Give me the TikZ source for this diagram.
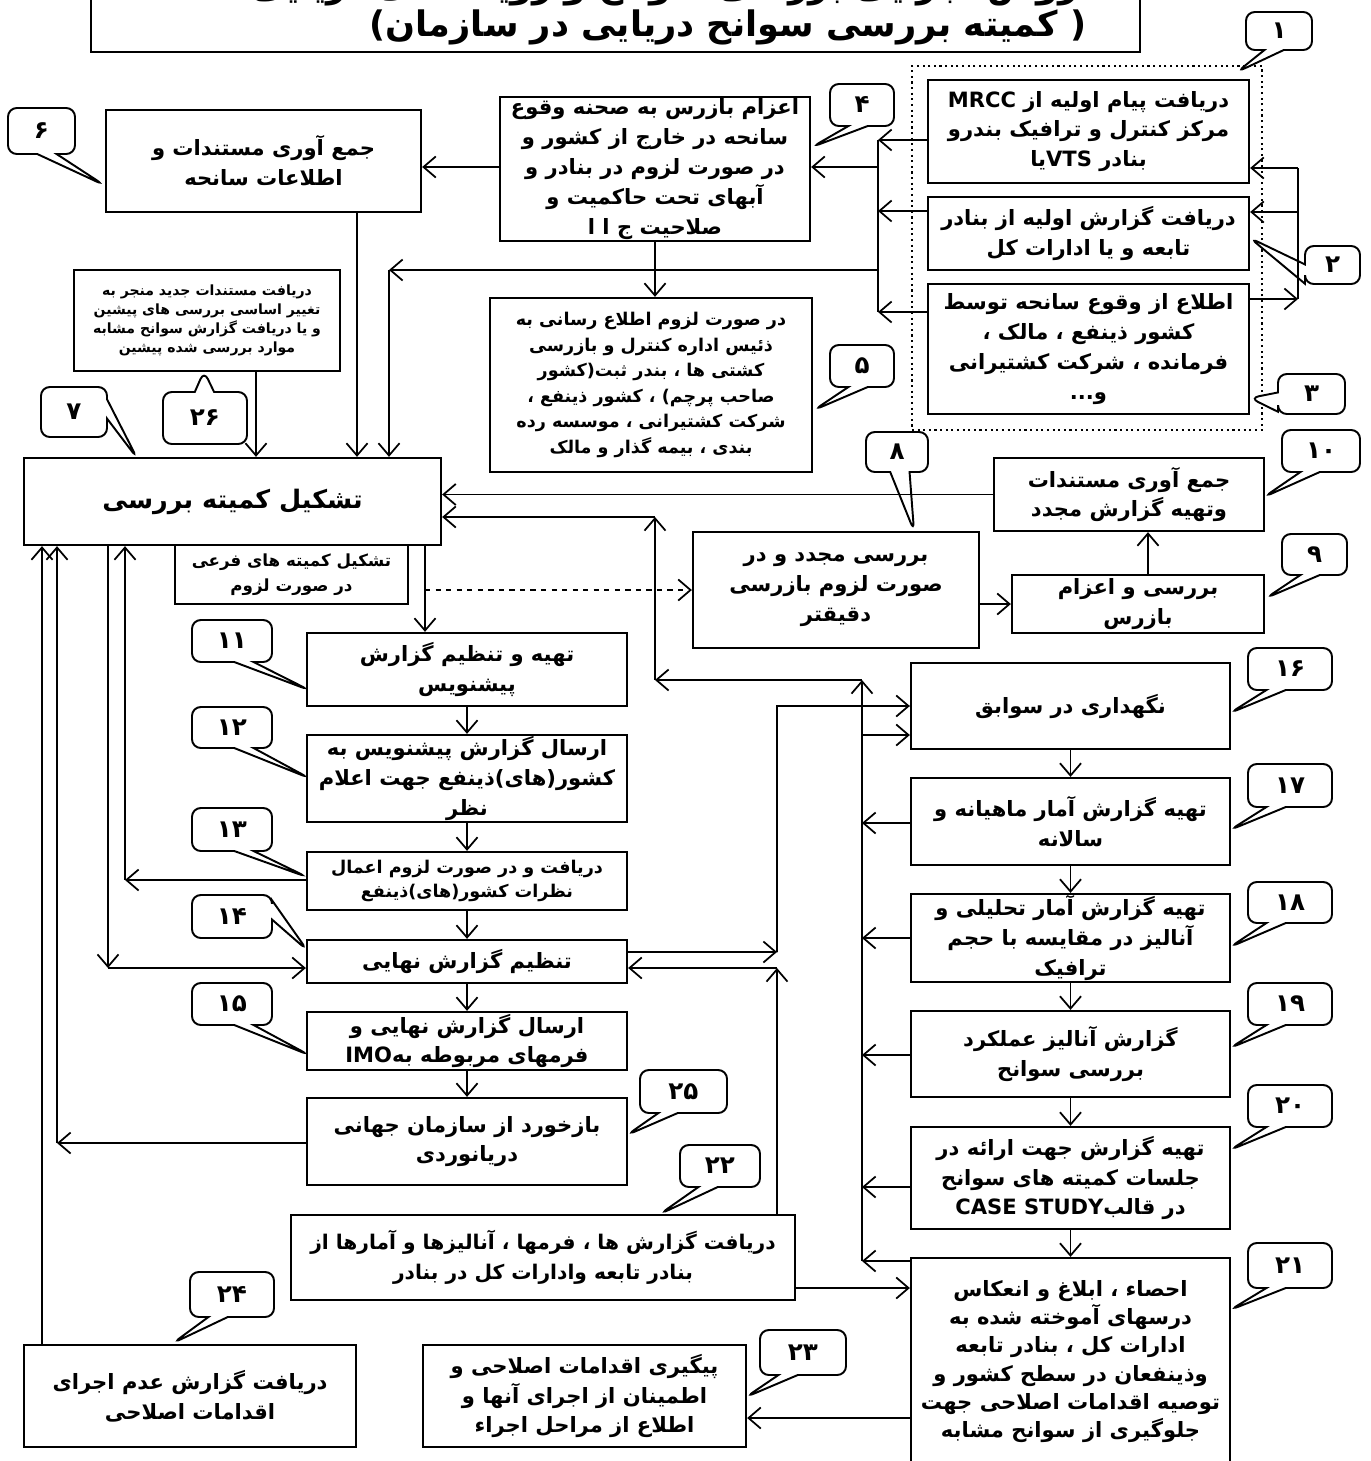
\documentclass[tikz,border=0pt]{standalone}
\usepackage{fontspec}
\newfontfamily\arabicfont[Script=Arabic]{DejaVu Sans}
\TeXXeTstate=1
\usetikzlibrary{arrows.meta,shapes.callouts}
\newcommand{\fa}[1]{\beginR #1\endR}
\newcommand{\pxu}{0.02cm}

\tikzset{
  sz/.style 2 args={minimum width=#1*\pxu, minimum height=#2*\pxu},
  box/.style={draw, line width=1.3pt, align=center, inner sep=0pt,
    font=\arabicfont\bfseries\fontsize{12}{17}\selectfont},
  small/.style={font=\arabicfont\bfseries\fontsize{10}{14.5}\selectfont},
  tiny/.style={font=\arabicfont\bfseries\fontsize{8}{10.8}\selectfont},
  tag/.style={rectangle callout, draw, line width=1.1pt, rounded corners=5pt,
    fill=white, inner sep=0pt, callout pointer width=11pt,
    font=\arabicfont\bfseries\fontsize{14}{14}\selectfont},
  arr/.style={-{Straight Barb[length=7pt,width=12pt]}, line width=1pt},
  line/.style={line width=1pt}
}

\begin{document}
\begin{tikzpicture}[x=\pxu, y=-\pxu]
  \useasboundingbox[fill=white] (0,0) rectangle (1370,1461);

  % title
  \node[draw, line width=1.3pt, sz={1049}{92}] (title) at (615.5,6) {};
  \node[font=\arabicfont\bfseries\fontsize{20}{20}\selectfont]
    (ttl1) at (665,-12) {\fa{روش اجرایی بررسی سوانح و رویدادهای دریایی}};
  \node[font=\arabicfont\bfseries\fontsize{20}{20}\selectfont]
    (ttl2) at (728,27) {\fa{( کمیته بررسی سوانح دریایی در سازمان)}};

  % incoming reports
  \node[draw, dotted, line width=1.2pt, sz={350}{364}] (grp) at (1087,248) {};
  \node[box, sz={321}{103}] (b1) at (1088.5,131.5)
    {\fa{دریافت پیام اولیه از MRCC}\\\fa{مرکز کنترل و ترافیک بندرو}\\
     \fa{بنادر \beginL VTS\endL{}یا}};
  \node[box, sz={321}{73}] (b2) at (1088.5,233.5)
    {\fa{دریافت گزارش اولیه از بنادر}\\\fa{تابعه و یا ادارات کل}};
  \node[box, sz={321}{130}] (b3) at (1088.5,349)
    {\fa{اطلاع از وقوع سانحه توسط}\\\fa{کشور ذینفع ، مالک ،}\\
     \fa{فرمانده ، شرکت کشتیرانی}\\\fa{و...}};

  \node[box, sz={310}{144}] (b4) at (655,169)
    {\fa{اعزام بازرس به صحنه وقوع}\\\fa{سانحه در خارج از کشور و}\\
     \fa{در صورت لزوم در بنادر و}\\\fa{آبهای تحت حاکمیت و}\\\fa{صلاحیت ج ا ا}};
  \node[box, small, sz={322}{174}] (b5) at (651,385)
    {\fa{در صورت لزوم اطلاع رسانی به}\\\fa{ذئیس اداره کنترل و بازرسی}\\
     \fa{کشتی ها ، بندر ثبت(کشور}\\\fa{صاحب پرچم) ، کشور ذینفع ،}\\
     \fa{شرکت کشتیرانی ، موسسه رده}\\\fa{بندی ، بیمه گذار و مالک}};
  \node[box, sz={315}{102}] (b6) at (263.5,161)
    {\fa{جمع آوری مستندات و}\\\fa{اطلاعات سانحه}};
  \node[box, tiny, sz={266}{101}] (b26) at (207,320.5)
    {\fa{دریافت مستندات جدید منجر به}\\\fa{تغییر اساسی بررسی های پیشین}\\
     \fa{و یا دریافت گزارش سوانح مشابه}\\\fa{موارد بررسی شده پیشین}};

  % committee
  \node[box, sz={417}{87}, font=\arabicfont\bfseries\fontsize{14.5}{20}\selectfont]
    (b7) at (232.5,501.5) {\fa{تشکیل کمیته  بررسی}};
  \node[box, sz={233}{59}, font=\arabicfont\bfseries\fontsize{9.5}{14}\selectfont]
    (bsub) at (291.5,574.5) {\fa{تشکیل کمیته های فرعی}\\\fa{در صورت لزوم}};

  \node[box, sz={286}{116}] (b8) at (836,590)
    {\fa{بررسی مجدد و در}\\\fa{صورت لزوم بازرسی}\\\fa{دقیقتر}};
  \node[box, sz={252}{58}] (b9) at (1138,604)
    {\fa{بررسی و اعزام}\\\fa{بازرس}};
  \node[box, sz={270}{73}] (b10) at (1129,494.5)
    {\fa{جمع آوری مستندات}\\\fa{وتهیه گزارش مجدد}};

  % report chain
  \node[box, sz={320}{73}] (b11) at (467,669.5)
    {\fa{تهیه و تنظیم  گزارش}\\\fa{پیشنویس}};
  \node[box, sz={320}{87}] (b12) at (467,778.5)
    {\fa{ارسال گزارش پیشنویس به}\\\fa{کشور(های)ذینفع جهت اعلام}\\\fa{نظر}};
  \node[box, sz={320}{58}, font=\arabicfont\bfseries\fontsize{10}{14}\selectfont]
    (b13) at (467,881)
    {\fa{دریافت و  در صورت لزوم اعمال}\\\fa{نظرات کشور(های)ذینفع}};
  \node[box, sz={320}{43}] (b14) at (467,961.5) {\fa{تنظیم گزارش نهایی}};
  \node[box, sz={320}{58}] (b15) at (467,1041)
    {\fa{ارسال گزارش نهایی و}\\\fa{فرمهای مربوطه به\beginL IMO\endL}};
  \node[box, sz={320}{87}] (b25) at (467,1141.5)
    {\fa{بازخورد  از سازمان جهانی}\\\fa{دریانوردی}};
  \node[box, sz={504}{85}, font=\arabicfont\bfseries\fontsize{11.5}{17}\selectfont]
    (b22) at (543,1257.5)
    {\fa{دریافت گزارش ها ، فرمها ، آنالیزها و آمارها از}\\
     \fa{بنادر تابعه وادارات کل در بنادر}};
  \node[box, sz={332}{102}] (b24) at (190,1396)
    {\fa{دریافت گزارش عدم اجرای}\\\fa{اقدامات اصلاحی}};
  \node[box, sz={323}{102}] (b23) at (584.5,1396)
    {\fa{پیگیری اقدامات اصلاحی و}\\\fa{اطمینان از اجرای آنها و}\\
     \fa{اطلاع از مراحل اجراء}};

  % records column
  \node[box, sz={319}{86}] (b16) at (1070.5,706) {\fa{نگهداری در سوابق}};
  \node[box, sz={319}{87}] (b17) at (1070.5,821.5)
    {\fa{تهیه گزارش آمار ماهیانه و}\\\fa{سالانه}};
  \node[box, sz={319}{88}] (b18) at (1070.5,938)
    {\fa{تهیه گزارش آمار تحلیلی و}\\\fa{آنالیز در مقایسه با حجم}\\\fa{ترافیک}};
  \node[box, sz={319}{86}] (b19) at (1070.5,1054)
    {\fa{گزارش آنالیز عملکرد}\\\fa{بررسی سوانح}};
  \node[box, sz={319}{102}] (b20) at (1070.5,1178)
    {\fa{تهیه گزارش جهت ارائه در}\\\fa{جلسات کمیته های سوانح}\\
     \fa{در قالب\beginL CASE STUDY\endL}};
  \node[box, sz={319}{207}, font=\arabicfont\bfseries\fontsize{12}{16}\selectfont]
    (b21) at (1070.5,1361.5)
    {\fa{احصاء ، ابلاغ و انعکاس}\\\fa{درسهای آموخته شده به}\\
     \fa{ادارات کل ، بنادر تابعه}\\\fa{وذینفعان در سطح کشور و}\\
     \fa{توصیه اقدامات اصلاحی جهت}\\\fa{جلوگیری از سوانح مشابه}};

  % number tags
  \node[tag, sz={66}{38}, callout absolute pointer={(1237,72)}] (c1) at (1279,31) {۱};
  \node[tag, sz={55}{38}, callout absolute pointer={(1250,238)}] (c2) at (1332.5,265) {۲};
  \node[tag, sz={67}{40}, callout absolute pointer={(1250,398)}] (c3) at (1311.5,394) {۳};
  \node[tag, sz={64}{42}, callout absolute pointer={(812,147)}] (c4) at (862,105) {۴};
  \node[tag, sz={64}{42}, callout absolute pointer={(814,410)}] (c5) at (862,366) {۵};
  \node[tag, sz={67}{46}, callout absolute pointer={(104,185)}] (c6) at (41.5,131) {۶};
  \node[tag, sz={66}{50}, callout absolute pointer={(137,458)}] (c7) at (74,412) {۷};
  \node[tag, sz={62}{40}, callout absolute pointer={(914,531)}] (c8) at (897,452) {۸};
  \node[tag, sz={65}{41}, callout absolute pointer={(1266,598)}] (c9) at (1314.5,554.5) {۹};
  \node[tag, sz={78}{42}, callout absolute pointer={(1264,497)}] (c10) at (1321,451) {۱۰};
  \node[tag, sz={80}{42}, callout absolute pointer={(309,690)}] (c11) at (232,641) {۱۱};
  \node[tag, sz={80}{41}, callout absolute pointer={(309,778)}] (c12) at (232,727.5) {۱۲};
  \node[tag, sz={80}{43}, callout absolute pointer={(307,877)}] (c13) at (232,829.5) {۱۳};
  \node[tag, sz={80}{43}, callout absolute pointer={(307,950)}] (c14) at (232,916.5) {۱۴};
  \node[tag, sz={80}{42}, callout absolute pointer={(309,1055)}] (c15) at (232,1004) {۱۵};
  \node[tag, sz={84}{42}, callout absolute pointer={(1230,713)}] (c16) at (1290,669) {۱۶};
  \node[tag, sz={84}{43}, callout absolute pointer={(1230,830)}] (c17) at (1290,785.5) {۱۷};
  \node[tag, sz={84}{41}, callout absolute pointer={(1230,947)}] (c18) at (1290,902.5) {۱۸};
  \node[tag, sz={84}{42}, callout absolute pointer={(1230,1048)}] (c19) at (1290,1004) {۱۹};
  \node[tag, sz={84}{42}, callout absolute pointer={(1230,1150)}] (c20) at (1290,1106) {۲۰};
  \node[tag, sz={84}{45}, callout absolute pointer={(1230,1310)}] (c21) at (1290,1265.5) {۲۱};
  \node[tag, sz={80}{42}, callout absolute pointer={(660,1214)}] (c22) at (720,1166) {۲۲};
  \node[tag, sz={86}{45}, callout absolute pointer={(746,1397)}] (c23) at (803,1352.5) {۲۳};
  \node[tag, sz={84}{45}, callout absolute pointer={(173,1343)}] (c24) at (232,1294.5) {۲۴};
  \node[tag, sz={87}{43}, callout absolute pointer={(627,1135)}] (c25) at (683.5,1091.5) {۲۵};
  \node[tag, sz={84}{52}, callout absolute pointer={(204,371)}] (c26) at (205,418) {۲۶};

  % joints
  \coordinate (ja) at (878,140);
  \coordinate (jb) at (878,211);
  \coordinate (jc) at (878,312);
  \coordinate (jd) at (878,167);
  \coordinate (je) at (878,270);
  \coordinate (ka) at (389,270);
  \coordinate (k6) at (357,300);
  \coordinate (k26) at (256,400);
  \coordinate (ra) at (1298,168);
  \coordinate (rb) at (1298,212);
  \coordinate (rc) at (1298,299);
  \coordinate (k9) at (1148,560);
  \coordinate (kd) at (425,590);
  \coordinate (l13) at (125,880);
  \coordinate (l14) at (108,968);
  \coordinate (l25) at (57,1143);
  \coordinate (l24) at (42,1400);
  \coordinate (r16) at (862,735);
  \coordinate (r17) at (862,823);
  \coordinate (r18) at (862,938);
  \coordinate (r19) at (862,1055);
  \coordinate (r20) at (862,1187);
  \coordinate (r21) at (862,1261);
  \coordinate (rt) at (862,680);
  \coordinate (ru) at (655,680);
  \coordinate (rv) at (655,517);
  \coordinate (s22) at (777,968);
  \coordinate (s14) at (777,952);
  \coordinate (s16) at (777,706);
  \coordinate (t22) at (850,1288);
  \coordinate (t23) at (850,1418);

  \draw[arr] (b1.west |- ja) -- (ja);
  \draw[arr] (b2.west |- jb) -- (jb);
  \draw[arr] (b3.west |- jc) -- (jc);
  \draw[line] (ja) -- (jc);
  \draw[arr] (jd) -- (b4.east |- jd);
  \draw[arr] (je) -- (ka);
  \draw[arr] (ka) -- (b7.north -| ka);

  \draw[arr] (b3.east |- rc) -- (rc);
  \draw[line] (rc) -- (ra);
  \draw[arr] (ra) -- (b1.east |- ra);
  \draw[arr] (rb) -- (b2.east |- rb);

  \draw[arr] (b4.south) -- (b4.south |- b5.north);
  \draw[arr] (b4.west |- jd) -- (b6.east |- jd);
  \draw[arr] (b6.south -| k6) -- (b7.north -| k6);
  \draw[arr] (b26.south -| k26) -- (b7.north -| k26);

  \draw[arr] (b10.west) -- (b10.west -| b7.east);
  \draw[arr] (b9.west -| b8.east) -- (b9.west);
  \draw[arr] (b9.north -| k9) -- (b10.south -| k9);
  \draw[arr] (b7.south -| kd) -- (b11.north -| kd);
  \draw[arr, dashed] (kd) -- (kd -| b8.west);

  \draw[arr] (b11.south) -- (b12.north);
  \draw[arr] (b12.south) -- (b13.north);
  \draw[arr] (b13.south) -- (b14.north);
  \draw[arr] (b14.south) -- (b15.north);
  \draw[arr] (b15.south) -- (b25.north);

  \draw[arr] (b13.west |- l13) -- (l13);
  \draw[arr] (l13) -- (l13 |- b7.south);
  \draw[arr] (l14 |- b7.south) -- (l14);
  \draw[arr] (l14) -- (l14 -| b14.west);
  \draw[arr] (b25.west |- l25) -- (l25);
  \draw[arr] (l25) -- (l25 |- b7.south);
  \draw[arr] (b24.north -| l24) -- (b7.south -| l24);

  \draw[arr] (b16.south) -- (b17.north);
  \draw[arr] (b17.south) -- (b18.north);
  \draw[arr] (b18.south) -- (b19.north);
  \draw[arr] (b19.south) -- (b20.north);
  \draw[arr] (b20.south) -- (b21.north);

  \draw[arr] (b17.west |- r17) -- (r17);
  \draw[arr] (b18.west |- r18) -- (r18);
  \draw[arr] (b19.west |- r19) -- (r19);
  \draw[arr] (b20.west |- r20) -- (r20);
  \draw[arr] (b21.west |- r21) -- (r21);
  \draw[arr] (r21) -- (rt);
  \draw[arr] (rt) -- (ru);
  \draw[arr] (ru) -- (rv);
  \draw[arr] (rv) -- (rv -| b7.east);
  \draw[arr] (r16) -- (r16 -| b16.west);

  \draw[arr] (b22.north -| s22) -- (s22);
  \draw[arr] (s22) -- (s22 -| b14.east);
  % shadowed link to the records box
  \draw[gray!45, line width=1.6pt, xshift=1.5pt, yshift=-1.5pt]
    (b14.east |- s14) -- (s14) -- (s16) -- (s16 -| b16.west);
  \draw[arr] (b14.east |- s14) -- (s14);
  \draw[arr] (s14) -- (s16) -- (s16 -| b16.west);
  \draw[arr] (b22.east |- t22) -- (b21.west |- t22);
  \draw[arr] (b21.west |- t23) -- (b23.east |- t23);
\end{tikzpicture}
\end{document}
